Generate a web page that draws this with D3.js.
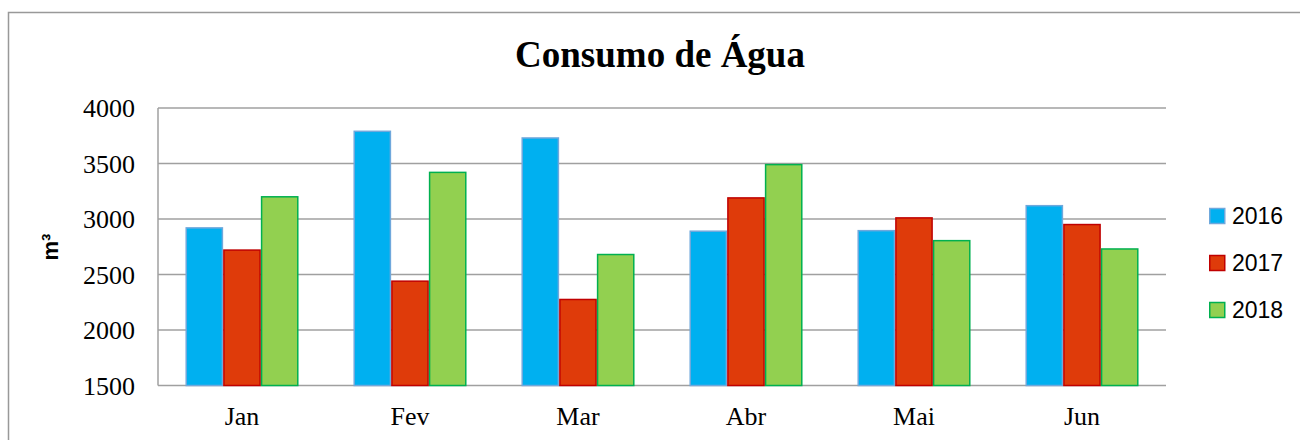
<!DOCTYPE html>
<html>
<head>
<meta charset="utf-8">
<script src="https://cdn.jsdelivr.net/npm/d3@7"></script>
<style>
  body { margin: 0; background: #fff; }
</style>
</head>
<body>
<svg width="1300" height="440"></svg>
<script>
// Data
var months = ["Jan", "Fev", "Mar", "Abr", "Mai", "Jun"];
var years = ["2016", "2017", "2018"];
var v2016 = [2920, 3790, 3730, 2890, 2895, 3120];
var v2017 = [2720, 2440, 2275, 3190, 3010, 2950];
var v2018 = [3200, 3420, 2680, 3490, 2805, 2730];
var yTicks = [1500, 2000, 2500, 3000, 3500, 4000];

var fills = ["#00B0F0", "#DF3B0A", "#92D050"];
var strokes = ["#6FA8DC", "#C00000", "#00B050"];

var svg = d3.select("svg");

// outer frame
svg.append("rect")
    .attr("x", 8.5).attr("y", 12.5)
    .attr("width", 1300).attr("height", 440)
    .attr("fill", "none")
    .attr("stroke", "#999")
    .attr("stroke-width", 1.5);

// plot area edges (top is a reserved global name in browsers)
var plotLeft = 158, plotRight = 1166, plotTop = 108, plotBottom = 385.5;

var x0 = d3.scaleBand()
    .domain(months)
    .range([plotLeft, plotRight])
    .paddingInner(0.327)
    .paddingOuter(0.1635);

var x1 = d3.scaleBand()
    .domain(years)
    .range([0, x0.bandwidth()]);

var y = d3.scaleLinear()
    .domain([1500, 4000])
    .range([plotBottom, plotTop]);

// gridlines
svg.append("g")
    .selectAll("line")
    .data(yTicks)
    .enter()
    .append("line")
    .attr("x1", plotLeft).attr("x2", plotRight)
    .attr("y1", function (d) { return y(d); })
    .attr("y2", function (d) { return y(d); })
    .attr("stroke", "#a0a0a0")
    .attr("stroke-width", 1.5);

// left axis line
svg.append("line")
    .attr("x1", plotLeft).attr("x2", plotLeft)
    .attr("y1", plotTop).attr("y2", plotBottom)
    .attr("stroke", "#a0a0a0")
    .attr("stroke-width", 1.5);

// y tick labels
svg.append("g")
    .selectAll("text")
    .data(yTicks)
    .enter()
    .append("text")
    .attr("x", 135)
    .attr("y", function (d) { return y(d); })
    .attr("dy", "0.35em")
    .attr("text-anchor", "end")
    .style("font-family", "'Liberation Serif', 'Times New Roman', serif")
    .style("font-size", "26px")
    .text(function (d) { return d; });

// bars
var series = [v2016, v2017, v2018];
var rows = months.map(function (m, i) {
    return { month: m, vals: series.map(function (s) { return s[i]; }) };
});

var groups = svg.append("g")
    .selectAll("g")
    .data(rows)
    .enter()
    .append("g")
    .attr("transform", function (d) { return "translate(" + x0(d.month) + ",0)"; });

groups.selectAll("rect")
    .data(function (d) { return d.vals.map(function (v, j) { return { year: years[j], v: v, j: j }; }); })
    .enter()
    .append("rect")
    .attr("x", function (d) { return x1(d.year) + 0.75; })
    .attr("width", x1.bandwidth() - 1.5)
    .attr("y", function (d) { return y(d.v); })
    .attr("height", function (d) { return y(1500) - y(d.v); })
    .attr("fill", function (d) { return fills[d.j]; })
    .attr("stroke", function (d) { return strokes[d.j]; })
    .attr("stroke-width", 1.5);

// x labels
svg.append("g")
    .selectAll("text")
    .data(months)
    .enter()
    .append("text")
    .attr("x", function (d) { return x0(d) + x0.bandwidth() / 2; })
    .attr("y", 425)
    .attr("text-anchor", "middle")
    .style("font-family", "'Liberation Serif', 'Times New Roman', serif")
    .style("font-size", "26px")
    .text(function (d) { return d; });

// title
svg.append("text")
    .attr("x", 660)
    .attr("y", 67)
    .attr("text-anchor", "middle")
    .style("font-family", "'Liberation Serif', 'Times New Roman', serif")
    .style("font-size", "37px")
    .style("font-weight", "bold")
    .text("Consumo de Água");

// y axis title
svg.append("text")
    .attr("transform", "translate(58,247) rotate(-90)")
    .attr("text-anchor", "middle")
    .style("font-family", "'Liberation Sans', Arial, sans-serif")
    .style("font-size", "22px")
    .style("font-weight", "bold")
    .text("m³");

// legend
var legend = svg.append("g")
    .selectAll("g")
    .data(years)
    .enter()
    .append("g")
    .attr("transform", function (d, i) { return "translate(1209," + (216 + i * 47) + ")"; });

legend.append("rect")
    .attr("x", 0.75).attr("y", -7.5)
    .attr("width", 15).attr("height", 15)
    .attr("fill", function (d, i) { return fills[i]; })
    .attr("stroke", function (d, i) { return strokes[i]; })
    .attr("stroke-width", 1.5);

legend.append("text")
    .attr("x", 23)
    .attr("dy", "0.36em")
    .style("font-family", "'Liberation Sans', Arial, sans-serif")
    .style("font-size", "23px")
    .text(function (d) { return d; });
</script>
</body>
</html>
